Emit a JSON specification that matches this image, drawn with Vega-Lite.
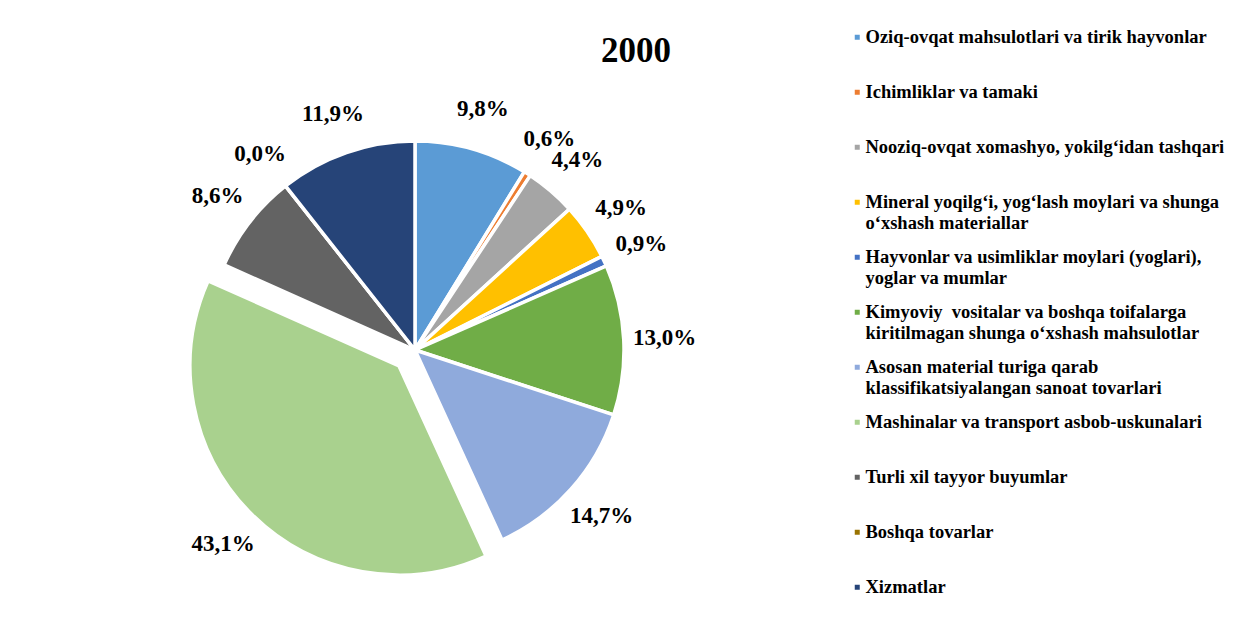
{
  "$schema": "https://vega.github.io/schema/vega-lite/v6.json",
  "width": 830,
  "height": 536,
  "autosize": "none",
  "padding": {"left": 0, "top": 82, "right": 426, "bottom": 0},
  "background": "white",
  "title": {
    "text": "2000",
    "font": "Liberation Serif",
    "fontSize": 35,
    "fontWeight": "bold",
    "color": "black",
    "anchor": "middle",
    "frame": "group",
    "dx": 221,
    "offset": -69,
    "baseline": "alphabetic"
  },
  "data": {
    "values": [
      {"idx": 0, "cat": "Oziq-ovqat mahsulotlari va tirik hayvonlar", "value": 9.8},
      {"idx": 1, "cat": "Ichimliklar va tamaki", "value": 0.6},
      {"idx": 2, "cat": "Nooziq-ovqat xomashyo, yokilg‘idan tashqari", "value": 4.4},
      {"idx": 3, "cat": "Mineral yoqilg‘i, yog‘lash moylari va shunga\no‘xshash materiallar", "value": 4.9},
      {"idx": 4, "cat": "Hayvonlar va usimliklar moylari (yoglari),\nyoglar va mumlar", "value": 0.9},
      {"idx": 5, "cat": "Kimyoviy\u00a0 vositalar va boshqa toifalarga\nkiritilmagan shunga o‘xshash mahsulotlar", "value": 13.0},
      {"idx": 6, "cat": "Asosan material turiga qarab\nklassifikatsiyalangan sanoat tovarlari", "value": 14.7},
      {"idx": 7, "cat": "Mashinalar va transport asbob-uskunalari", "value": 43.1},
      {"idx": 8, "cat": "Turli xil tayyor buyumlar", "value": 8.6},
      {"idx": 9, "cat": "Boshqa tovarlar", "value": 0.0},
      {"idx": 10, "cat": "Xizmatlar", "value": 11.9}
    ]
  },
  "transform": [
    {"calculate": "replace(format(datum.value, '.1f'), '.', ',') + '%'", "as": "label"}
  ],
  "encoding": {
    "theta": {"field": "value", "type": "quantitative", "stack": true},
    "order": {"field": "idx", "type": "quantitative"},
    "color": {
      "field": "cat",
      "type": "nominal",
      "scale": {
        "domain": [
          "Oziq-ovqat mahsulotlari va tirik hayvonlar",
          "Ichimliklar va tamaki",
          "Nooziq-ovqat xomashyo, yokilg‘idan tashqari",
          "Mineral yoqilg‘i, yog‘lash moylari va shunga\no‘xshash materiallar",
          "Hayvonlar va usimliklar moylari (yoglari),\nyoglar va mumlar",
          "Kimyoviy\u00a0 vositalar va boshqa toifalarga\nkiritilmagan shunga o‘xshash mahsulotlar",
          "Asosan material turiga qarab\nklassifikatsiyalangan sanoat tovarlari",
          "Mashinalar va transport asbob-uskunalari",
          "Turli xil tayyor buyumlar",
          "Boshqa tovarlar",
          "Xizmatlar"
        ],
        "range": ["#5B9BD5", "#ED7D31", "#A5A5A5", "#FFC000", "#4472C4", "#70AD47", "#8FAADC", "#A9D18E", "#636363", "#997300", "#264478"]
      },
      "legend": {
        "orient": "none",
        "legendX": 848,
        "legendY": -54,
        "title": null,
        "padding": 0,
        "symbolType": "square",
        "symbolSize": 25,
        "symbolStrokeWidth": 0,
        "symbolOpacity": 1,
        "labelFont": "Liberation Serif",
        "labelFontWeight": "bold",
        "labelFontSize": 18.5,
        "labelColor": "black",
        "labelLimit": 600,
        "labelOffset": -1,
        "labelBaseline": "middle",
        "rowPadding": 15,
        "labelExpr": "indexof(datum.label, '\\n') < 0 ? [datum.label, ''] : split(datum.label, '\\n')"
      }
    }
  },
  "layer": [
    {
      "mark": {"type": "arc", "outerRadius": 209, "stroke": "white", "strokeWidth": 3.5},
      "encoding": {
        "opacity": {"condition": {"test": "datum.cat === 'Mashinalar va transport asbob-uskunalari'", "value": 0}, "value": 1}
      }
    },
    {
      "mark": {"type": "arc", "outerRadius": 209, "stroke": "white", "strokeWidth": 3.5, "xOffset": -16, "yOffset": 16},
      "encoding": {
        "opacity": {"condition": {"test": "datum.cat === 'Mashinalar va transport asbob-uskunalari'", "value": 1}, "value": 0}
      }
    },
    {
      "mark": {"type": "text", "radius": 250, "font": "Liberation Serif", "fontWeight": "bold", "fontSize": 23},
      "encoding": {
        "text": {"field": "label"},
        "color": {"value": "black"},
        "detail": {"field": "cat"},
        "opacity": {"condition": {"test": "datum.cat === 'Mashinalar va transport asbob-uskunalari'", "value": 0}, "value": 1}
      }
    },
    {
      "mark": {"type": "text", "radius": 250, "font": "Liberation Serif", "fontWeight": "bold", "fontSize": 23, "xOffset": -16, "yOffset": 16},
      "encoding": {
        "text": {"field": "label"},
        "color": {"value": "black"},
        "detail": {"field": "cat"},
        "opacity": {"condition": {"test": "datum.cat === 'Mashinalar va transport asbob-uskunalari'", "value": 1}, "value": 0}
      }
    }
  ]
}
